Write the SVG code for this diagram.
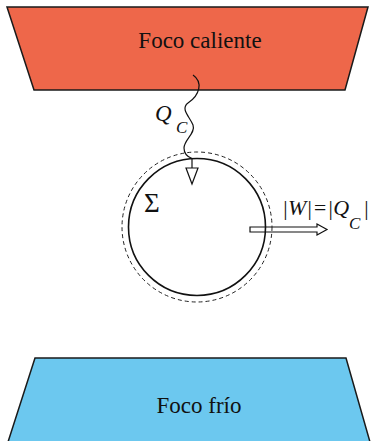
<svg xmlns="http://www.w3.org/2000/svg" width="371" height="441" viewBox="0 0 371 441">
<style>
.shape{stroke:#1a1a1a;stroke-width:1.5;stroke-linejoin:miter}
.lbl{font-family:"Liberation Serif","Times New Roman",serif;fill:#111}
.ln{fill:none;stroke:#111;stroke-width:1.2}
</style>
<rect width="371" height="441" fill="#fff"/>
<g id="foco-caliente">
<polygon class="shape" points="7,7 368,7 345,90 34,90" fill="#EE674A"/>
<text class="lbl" x="200" y="48" font-size="23" text-anchor="middle">Foco caliente</text>
</g>
<g id="foco-frio">
<polygon class="shape" points="35,358 346,358 370,442 8,442" fill="#6CC8EF"/>
<text class="lbl" x="199" y="413" font-size="23" text-anchor="middle">Foco frío</text>
</g>
<g id="sistema">
<circle cx="197" cy="227" r="75" fill="none" stroke="#222" stroke-width="1" stroke-dasharray="4,3"/>
<circle cx="197" cy="227" r="68.5" fill="none" stroke="#111" stroke-width="1.6"/>
<text class="lbl" x="144" y="212" font-size="27">Σ</text>
</g>
<g id="connectors">
<path class="ln" d="M193,75 C203,82 200,95 188,103 C180,109 190,117 193,125 C196,133 184,140 184,148 C184,154 188,157 192,158.5"/>
<line class="ln" x1="192" y1="158.5" x2="192" y2="168"/>
<polygon points="186,168 198,168 192,184" fill="#fff" stroke="#111" stroke-width="1.2"/>
<path d="M250,227 L317,227 L317,224 L327,229.5 L317,235 L317,232 L250,232 Z" fill="none" stroke="#111" stroke-width="1.2"/>
</g>
<g id="labels">
<text class="lbl" font-style="italic" font-size="23" x="155" y="121">Q</text>
<text class="lbl" font-style="italic" font-size="17" x="176" y="133">C</text>
<text class="lbl" font-style="italic" font-size="22" x="282" y="215">|W|=|Q</text>
<text class="lbl" font-style="italic" font-size="17" x="349" y="229">C</text>
<text class="lbl" font-style="italic" font-size="22" x="363" y="215">|</text>
</g>
</svg>
